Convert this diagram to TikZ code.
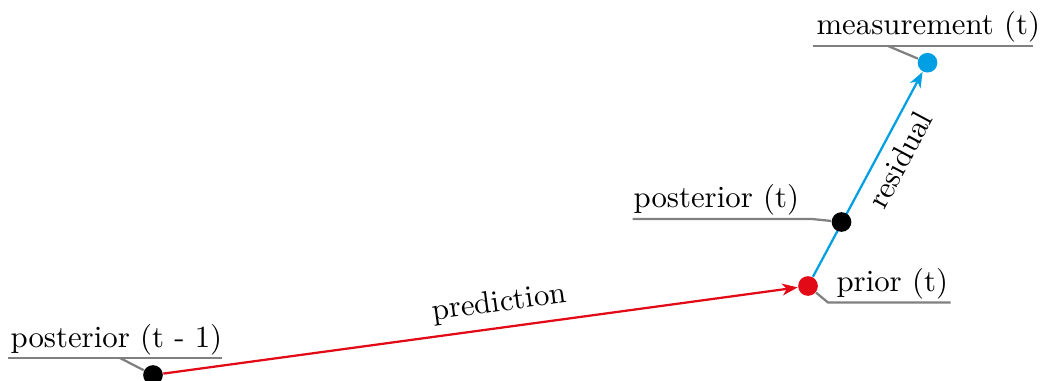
\documentclass[tikz,border=0pt]{standalone}
\usetikzlibrary{arrows.meta,backgrounds}
\definecolor{kred}{HTML}{E30A17}
\definecolor{kcyan}{HTML}{009FE3}
\definecolor{kgray}{HTML}{808080}
\begin{document}
\begin{tikzpicture}[x=0.0125cm,y=0.0125cm,
  dot/.style={circle,inner sep=0pt,minimum size=7pt},
  lbl/.style={anchor=base west,inner sep=0pt,font=\fontsize{10.95}{13}\selectfont},
  lead/.style={draw=kgray,line width=0.8pt},
  arr/.style={line width=0.8pt,-{Stealth[length=5.5pt,width=4.2pt,inset=1.6pt]}},
  elbl/.style={font=\fontsize{10.95}{13}\selectfont,sloped,text=black}]
\useasboundingbox (0,0) rectangle (1040,380);
% dots
\node[dot,fill=black] (p0) at (153,5) {};
\node[dot,fill=kred] (pr) at (808,94) {};
\node[dot,fill=black] (pt) at (841.5,158) {};
\node[dot,fill=kcyan] (ms) at (927.5,317.3) {};
% labels
\node[lbl] (l0) at (10,33) {posterior (t - 1)};
\node[lbl] (l1) at (836,88.5) {prior (t)};
\node[lbl] (l2) at (633,172.5) {posterior (t)};
\node[lbl] (l3) at (816,345) {measurement (t)};
% underline points
\coordinate (u0a) at (8,22); \coordinate (u0b) at (222,22); \coordinate (k0) at (120,22);
\coordinate (k1) at (828,77.5); \coordinate (u1b) at (950.5,77.5);
\coordinate (u2a) at (632.5,161); \coordinate (k2) at (812,161);
\coordinate (u3a) at (812.5,334); \coordinate (u3b) at (1033,334); \coordinate (k3) at (888,334);
\begin{scope}[on background layer]
  \draw[lead] (u0a) -- (u0b);
  \draw[lead] (k0) -- (p0);
  \draw[lead] (pr) -- (k1) -- (u1b);
  \draw[lead] (u2a) -- (k2) -- (pt);
  \draw[lead] (u3a) -- (u3b);
  \draw[lead] (k3) -- (ms);
  \draw[arr,kred] (p0) -- node[elbl,above,pos=0.535]{prediction} (pr);
  \draw[arr,kcyan] (pr) -- node[elbl,below,pos=0.62]{residual} (ms);
\end{scope}
\end{tikzpicture}
\end{document}
